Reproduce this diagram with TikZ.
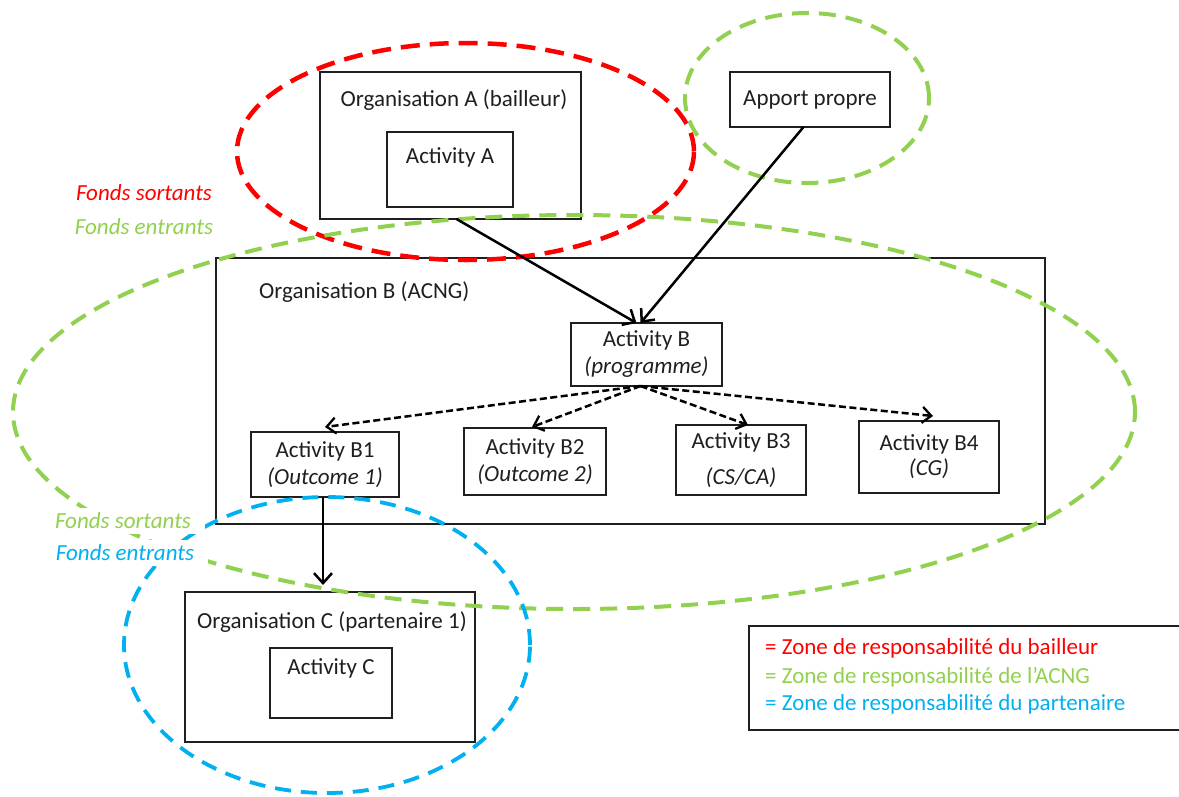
\documentclass[tikz,border=0pt]{standalone}
\usepackage{fontspec}
\setmainfont{Carlito}
\usetikzlibrary{shapes.geometric,arrows.meta}
\definecolor{zoneRed}{HTML}{FF0000}
\definecolor{zoneGreen}{HTML}{92D050}
\definecolor{zoneBlue}{HTML}{00B0F0}
\definecolor{ink}{HTML}{1F1F1F}

\begin{document}
\begin{tikzpicture}[x=1pt,y=-1pt,
  every node/.style={font=\fontsize{23}{27}\selectfont, text=ink},
  box/.style={draw=ink, line width=1.8pt, inner sep=0pt, outer sep=0pt, align=center},
  zone/.style={ellipse, inner sep=0pt, outer sep=0pt},
  zoneRedStyle/.style={zone, draw=zoneRed, line width=4.5pt, dash pattern=on 19pt off 10pt},
  zoneGreenStyle/.style={zone, draw=zoneGreen, line width=4pt, dash pattern=on 17pt off 10pt},
  zoneBlueStyle/.style={zone, draw=zoneBlue, line width=3.8pt, dash pattern=on 16pt off 10pt},
  flow/.style={draw=black, line width=2.5pt, -{Straight Barb[length=10pt,width=18pt,line width=2.5pt]}},
  subflow/.style={draw=black, line width=2.5pt, dash pattern=on 7pt off 3.5pt,
    -{Straight Barb[length=9pt,width=16pt,line width=2.3pt]}},
  fundlabel/.style={font=\fontsize{23}{27}\selectfont\itshape, fill=white, inner xsep=14pt, inner ysep=5pt},
  legendline/.style={anchor=west, inner sep=0pt}
]
\useasboundingbox (0,0) rectangle (1179,796);

% Organisation A (donor)
\node[box, minimum width=261pt, minimum height=147pt] (orgA) at (450.5,145.5) {};
\node (orgAtitle) at (454,100) {Organisation A (bailleur)};
\node[box, minimum width=126pt, minimum height=75pt] (actA) at (450,169.5) {};
\node (actAtext) at (450,157) {Activity A};

% Own contribution
\node[box, minimum width=160pt, minimum height=55pt] (apport) at (810,99.5) {Apport propre};

% Organisation B (ACNG)
\node[box, minimum width=829pt, minimum height=266pt] (orgB) at (630.5,391) {};
\node[anchor=west, inner sep=0pt] (orgBtitle) at (259,292) {Organisation B (ACNG)};
\node[box, minimum width=151pt, minimum height=63pt] (actB) at (646.5,354.5)
  {Activity B\\\textit{(programme)}};
\node[box, minimum width=148pt, minimum height=65pt] (b1) at (325,464.5)
  {Activity B1\\\textit{(Outcome 1)}};
\node[box, minimum width=142pt, minimum height=67pt] (b2) at (535,461.5)
  {Activity B2\\\textit{(Outcome 2)}};
\node[box, minimum width=130pt, minimum height=70pt] (b3) at (741,460)
  {Activity B3\\[9pt]\textit{(CS/CA)}};
\node[box, minimum width=140pt, minimum height=72pt] (b4) at (929,457)
  {Activity B4\\[-2pt]\textit{(CG)}};

% Organisation C (partner)
\node[box, minimum width=290pt, minimum height=150pt] (orgC) at (330,667) {};
\node (orgCtitle) at (332,622) {Organisation C (partenaire 1)};
\node[box, minimum width=122pt, minimum height=70pt] (actC) at (331,683) {};
\node (actCtext) at (331,668) {Activity C};

% Zones of responsibility
\node[zoneRedStyle, minimum width=457pt, minimum height=217pt] (zoneDonor) at (465.5,151.5) {};
\node[zoneGreenStyle, minimum width=244pt, minimum height=170pt] (zoneOwn) at (807,98) {};
\node[zoneGreenStyle, minimum width=1122pt, minimum height=394pt] (zoneACNG) at (574,412) {};
\node[zoneBlueStyle, minimum width=406pt, minimum height=296pt] (zonePartner) at (327,645) {};

% Fund flows
\draw[flow] ([xshift=6pt]orgA.south) -- ([xshift=-10pt]actB.north);
\draw[flow] ([xshift=-6.5pt]apport.south) -- ([xshift=-6pt]actB.north);
\draw[subflow] ([xshift=-6pt]actB.south) -- ([yshift=5pt]b1.north);
\draw[subflow] ([xshift=-6pt]actB.south) -- ([xshift=-3pt,yshift=1pt]b2.north);
\draw[subflow] ([xshift=-6pt]actB.south) -- ([xshift=7pt]b3.north);
\draw[subflow] ([xshift=-6pt]actB.south) -- ([xshift=4pt,yshift=5pt]b4.north);
\draw[flow] ([xshift=-2pt]b1.south) -- ([xshift=-7pt,yshift=7pt]orgC.north);

% Outgoing / incoming funds labels
\node[fundlabel, text=zoneRed] (outA) at (144,193) {Fonds sortants};
\node[fundlabel, text=zoneGreen] (inB) at (144,227) {Fonds entrants};
\node[fundlabel, text=zoneGreen] (outB) at (123,521) {Fonds sortants};
\node[fundlabel, text=zoneBlue] (inC) at (125,553) {Fonds entrants};

% Legend
\node[draw=ink, line width=1.8pt, minimum width=436pt, minimum height=104pt, inner sep=0pt] (legend) at (967,678) {};
\node[legendline, text=zoneRed] (legDonor) at (765,648) {= Zone de responsabilité du bailleur};
\node[legendline, text=zoneGreen] (legACNG) at (765,677) {= Zone de responsabilité de l’ACNG};
\node[legendline, text=zoneBlue] (legPartner) at (765,704) {= Zone de responsabilité du partenaire};
\end{tikzpicture}
\end{document}
